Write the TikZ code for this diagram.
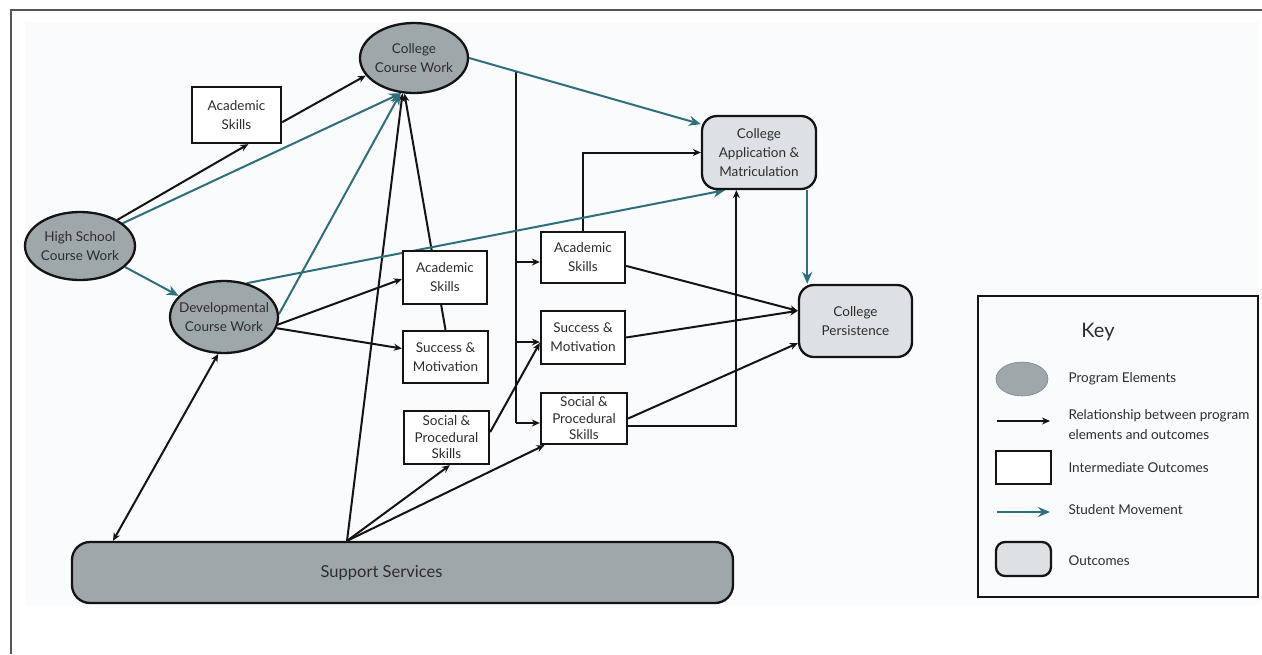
\documentclass[tikz,border=0pt]{standalone}
\usepackage{fontspec}
\setmainfont{Lato}
\usetikzlibrary{shapes.geometric,arrows.meta,calc}
\pgfdeclarelayer{bg}
\pgfsetlayers{bg,main}
\definecolor{progfill}{RGB}{158,168,171}
\definecolor{outfill}{RGB}{221,225,228}
\definecolor{tealc}{RGB}{47,111,125}
\definecolor{bgc}{RGB}{250,251,253}
\definecolor{textc}{RGB}{45,45,45}
\definecolor{linec}{RGB}{20,20,20}
\definecolor{framec}{RGB}{85,85,85}
\tikzset{
  txt/.style={text=textc, font=\fontsize{13.5}{19}\selectfont, align=center},
  txtthree/.style={text=textc, font=\fontsize{13.5}{16.5}\selectfont, align=center},
  prog/.style={ellipse, draw=linec, line width=2.3pt, fill=progfill, inner sep=0pt},
  inter/.style={rectangle, draw=linec, line width=2.3pt, fill=white, inner sep=0pt, txt},
  outc/.style={rectangle, rounded corners=15pt, draw=linec, line width=2.3pt, fill=outfill, inner sep=0pt, txt},
  rel/.style={draw=linec, line width=2pt, -{Stealth[length=8pt,width=7pt]}},
  relboth/.style={draw=linec, line width=2pt, {Stealth[length=8pt,width=7pt]}-{Stealth[length=8pt,width=7pt]}},
  plain/.style={draw=linec, line width=2pt},
  mov/.style={draw=tealc, line width=2pt, -{Stealth[length=12pt,width=10pt,inset=4pt]}},
  keytxt/.style={text=textc, font=\fontsize{13.5}{20}\selectfont, align=left, anchor=west},
}
\begin{document}
\begin{tikzpicture}[x=1pt,y=-1pt]
\useasboundingbox (0,0) rectangle (1262,654);
\begin{pgfonlayer}{bg}
\fill[bgc] (25,22) rectangle (1259,605);
\end{pgfonlayer}
\draw[framec, line width=1.6pt] (11,654) -- (11,10) -- (1262,10);

% program elements
\node[prog, minimum width=108pt, minimum height=70pt,
      label={[txt]center:College\\Course Work}] (ccw) at (414,58) {};
\node[prog, minimum width=110pt, minimum height=68pt,
      label={[txt]center:High School\\Course Work}] (hs) at (80,246) {};
\node[prog, minimum width=108pt, minimum height=72pt,
      label={[txt]center:Developmental\\Course Work}] (dev) at (224,317) {};
\node[rectangle, rounded corners=18pt, draw=linec, line width=2.3pt, fill=progfill,
      minimum width=661pt, minimum height=61pt,
      label={[text=textc, font=\fontsize{16.5}{18}\selectfont, xshift=-21pt]center:Support Services}] (ss) at (402.5,572.5) {};

% intermediate outcomes
\node[inter, minimum width=89pt, minimum height=56pt] (as0) at (236.5,115) {Academic\\Skills};
\node[inter, minimum width=84pt, minimum height=53pt] (as1) at (445,277.5) {Academic\\Skills};
\node[inter, minimum width=85pt, minimum height=52pt] (sm1) at (445.5,357) {Success \&\\Motivation};
\node[inter, txtthree, minimum width=85pt, minimum height=53pt] (sp1) at (446.5,437.5) {Social \&\\Procedural\\Skills};
\node[inter, minimum width=84pt, minimum height=51pt] (as2) at (583,257.5) {Academic\\Skills};
\node[inter, minimum width=84pt, minimum height=53pt] (sm2) at (583,337.5) {Success \&\\Motivation};
\node[inter, txtthree, minimum width=86pt, minimum height=51pt] (sp2) at (584,418.5) {Social \&\\Procedural\\Skills};

% outcomes
\node[outc, minimum width=114pt, minimum height=73pt] (cam) at (759,152.5) {College\\Application \&\\Matriculation};
\node[outc, minimum width=113pt, minimum height=72pt] (cp) at (855.5,321) {College\\Persistence};

\coordinate (brtop) at (516,71);
\coordinate (brbot) at (516,423);

\begin{pgfonlayer}{bg}
% relationships (black)
\draw[rel] (hs.35) -- (as0.-68);
\draw[rel] (as0.-9) -- (ccw.200);
\draw[rel] (dev.-8) -- (as1.182);
\draw[rel] (dev.-12) -- (sm1.169);
\draw[rel] (sm1.north) -- (ccw.255);
\draw[rel] ([xshift=-55.5pt]ss.north) -- (ccw.252);
\draw[rel] ([xshift=-55.5pt]ss.north) -- (sp1.-83);
\draw[rel] ([xshift=-55.5pt]ss.north) -- (sp2.214);
\draw[relboth] (dev.-99) -- ([xshift=-289.5pt]ss.north);
\draw[rel] (sp1.7) -- (sm2.187);
\draw[plain] (brtop) -- (brbot);
\draw[rel] (brtop |- as2.186) -- (as2.186);
\draw[rel] (brtop |- sm2.186) -- (sm2.186);
\draw[rel] (brbot) -- (brbot -| sp2.west);
\draw[rel] (as2.north) |- (cam.west);
\draw[rel] (as2.-11) -- (cp.170);
\draw[rel] (sm2.east) -- (cp.170);
\draw[rel] (sp2.east) -- (cp.201);
\draw[rel] (sp2.-10) -| (cam.-121);
% student movement (teal)
\draw[mov] (hs.28) -- (ccw.250);
\draw[mov] (hs.-25) -- (dev.155);
\draw[mov] (dev.3) -- (ccw.249);
\draw[mov] (dev.56) -- (cam.228);
\draw[mov] (ccw.east) -- (cam.154);
\draw[mov] (cam.-38) -- (cam.-38 |- cp.north);
\end{pgfonlayer}

% key
\node[draw=linec, line width=2pt, minimum width=280pt, minimum height=301pt, inner sep=0pt] (key) at (1118,446.5) {};
\node[text=textc, font=\fontsize{20}{22}\selectfont] (keyt) at (1098,332) {Key};
\node[ellipse, draw=progfill!80!black, line width=0.6pt, fill=progfill, minimum width=52pt, minimum height=34pt, inner sep=0pt] (k1) at (1022,379) {};
\node[keytxt] (k1t) at (1065,379) {Program Elements};
\coordinate (k2a) at (997,421);
\coordinate (k2b) at (1050,421);
\draw[rel] (k2a) -- (k2b);
\node[keytxt] (k2t) at (1065,425) {Relationship between program\\elements and outcomes};
\node[rectangle, draw=linec, line width=2.3pt, fill=white, minimum width=55pt, minimum height=33pt, inner sep=0pt] (k3) at (1023.5,467.5) {};
\node[keytxt] (k3t) at (1065,468) {Intermediate Outcomes};
\coordinate (k4a) at (997,512);
\coordinate (k4b) at (1050,512);
\draw[mov] (k4a) -- (k4b);
\node[keytxt] (k4t) at (1065,510) {Student Movement};
\node[rectangle, rounded corners=9pt, draw=linec, line width=2.3pt, fill=outfill, minimum width=55pt, minimum height=34pt, inner sep=0pt] (k5) at (1023.5,559) {};
\node[keytxt] (k5t) at (1065,561) {Outcomes};
\end{tikzpicture}
\end{document}
